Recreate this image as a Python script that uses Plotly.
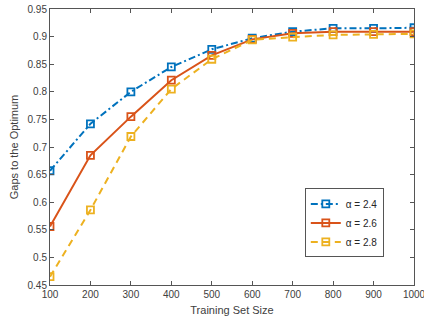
import plotly.graph_objects as go

sizes = [100, 200, 300, 400, 500, 600, 700, 800, 900, 1000]
alpha_24 = [0.657, 0.742, 0.800, 0.845, 0.877, 0.897, 0.909, 0.915, 0.915, 0.916]
alpha_26 = [0.556, 0.685, 0.755, 0.821, 0.866, 0.895, 0.906, 0.909, 0.909, 0.909]
alpha_28 = [0.465, 0.586, 0.719, 0.805, 0.859, 0.894, 0.899, 0.903, 0.904, 0.905]
series_names = ["α = 2.4", "α = 2.6", "α = 2.8"]
y_ticks = [0.45, 0.5, 0.55, 0.6, 0.65, 0.7, 0.75, 0.8, 0.85, 0.9, 0.95]
y_tick_labels = ["0.45", "0.5", "0.55", "0.6", "0.65", "0.7", "0.75", "0.8", "0.85", "0.9", "0.95"]

colors = ["#0072BD", "#D95319", "#EDB120"]
dashes = ["7px,3px,2px,3px", "solid", "7px,5px"]

fig = go.Figure()
for name, ys, c, d in zip(series_names, [alpha_24, alpha_26, alpha_28], colors, dashes):
    fig.add_trace(go.Scatter(
        x=sizes, y=ys, name=name, mode="lines+markers",
        line=dict(color=c, width=2, dash=d),
        marker=dict(symbol="square-open", size=7, color=c, line=dict(width=1.8, color=c)),
    ))

axis_common = dict(
    showgrid=False, zeroline=False, showline=True, linecolor="#555555", linewidth=1,
    mirror="ticks", ticks="inside", ticklen=4, tickcolor="#555555", automargin=False,
    ticklabeloverflow="allow",
    tickfont=dict(family="Liberation Sans, Arial", size=10, color="#404040"),
)

fig.update_layout(
    width=424, height=325,
    margin=dict(l=50, r=10, t=9, b=40),
    paper_bgcolor="white", plot_bgcolor="white",
    font=dict(family="Liberation Sans, Arial", size=10, color="#404040"),
    xaxis=dict(range=[100, 1000], tickvals=sizes, ticktext=[str(s) for s in sizes],
               title=dict(text="Training Set Size", font=dict(size=11), standoff=7), **axis_common),
    yaxis=dict(range=[0.45, 0.95], tickvals=y_ticks, ticktext=y_tick_labels,
               title=dict(text="Gaps to the Optimum", font=dict(size=11), standoff=6), **axis_common),
    legend=dict(x=0.70, y=0.225, xanchor="left", yanchor="middle",
                bordercolor="#555555", borderwidth=1, bgcolor="white",
                font=dict(size=10, color="#262626"), itemwidth=30,
                tracegroupgap=0),
    showlegend=True,
)

fig.write_html("out.html", config={"displayModeBar": False},
               post_script="document.body.style.margin='0px';")
